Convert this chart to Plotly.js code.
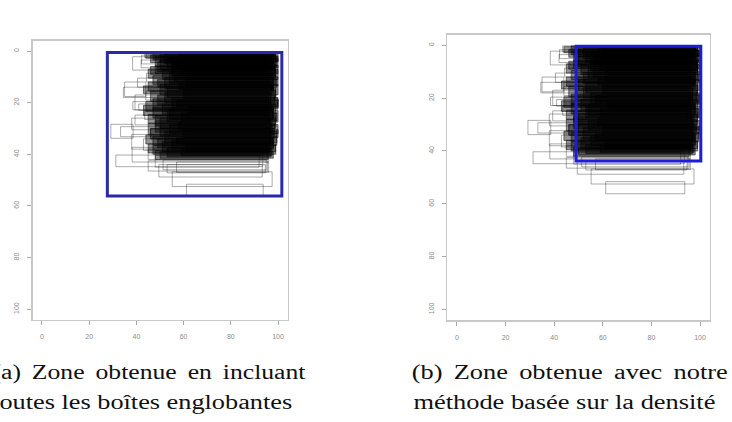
<!DOCTYPE html>
<html>
<head>
<meta charset="utf-8">
<script src="https://cdn.plot.ly/plotly-3.0.1.min.js"></script>
<style>html,body{margin:0;padding:0;background:#fff;}#chart{width:732px;height:422px;}</style>
</head>
<body>
<div id="chart"></div>
<script>
// ---- data: bounding boxes (x0, x1, y0, y1 in image units) ----
// sparse boxes (clearly visible outlines)
const sparseX0 = [42.2,38.4,43.5,35.0,34.5,39.4,41.0,38.0,29.2,33.3,38.0,38.2,31.3,51.3,49.5,55.2,61.2,53.0,45.0,44.3,38.5,39.4,40.5,43.0,42.0,45.0,44.0,43.5,46.0,48.0,57.0];
const sparseX1 = [96,95,98,44.0,97,95,97,96,38.6,95,97,96,93.5,95.0,93.3,97.5,93.7,94.6,95.5,96.5,96,94.5,98,97,99,96,99,97.5,98.5,92.0,96.0];
const sparseY0 = [1.6,2.2,0.2,12.0,14.0,17.0,20.5,26.0,28.4,29.3,32.3,37.3,40.3,42.2,44.0,46.8,51.6,44.0,42.5,8.6,19.6,24.8,10.5,34.0,3.5,38.0,15.5,23.0,30.0,40.5,43.0];
const sparseY1 = [5.0,7.4,2.5,17.6,18.0,22.8,23.0,30.5,33.8,33.2,38.0,43.0,44.8,46.0,48.8,52.5,56.2,47.2,46.5,11.9,22.8,28.6,14.0,38.5,6.5,42.0,19.0,26.5,34.0,45.0,47.0];
// dense boxes (the heavily overlapping core)
const denseX0 = [47,50,52,48,53,49,55,46,51,54,47,52,45,50,53,46,49,55,44,51,47,53,45,50,48,54,46,52,44,49,51,47,53,48,
                 44,46,55,50,48,45,56,49,43,52,47,43,54,48,45,50,47,55,45,50,
                 58,60,57,59,61,58,60,57,62,59,58,60,57,61,59];
const denseX1 = [99,100,98,99.5,100,97,99,98.5,100,96,99,98,97.5,100,99,96,98.5,100,97,99,98,100,96.5,99,97.5,100,98,99.5,97,98,96.5,99,97,95.5,
                 98,99,97,98,100,99,98,99.5,98,97,100,96,98,99,98.5,97,99.5,98,96,98,
                 99,100,98.5,99,100,98,99,100,98,99.5,97,100,98,99,97.5];
const denseY0 = [0.2,0.5,1.0,2.0,3.0,4.2,5.0,6.0,7.2,8.0,9.5,10.2,12.0,13.0,14.2,15.5,17.0,18.0,19.5,20.5,22.0,23.0,24.5,26.0,27.0,28.5,30.0,31.0,32.5,34.0,35.0,36.5,37.5,38.5,
                 0.5,1.5,2.5,3.5,5.5,7.0,9.0,11.0,13.5,16.0,18.5,21.0,22.5,25.0,28.0,29.5,33.0,34.5,36.0,39.0,
                 0.3,2.0,4.5,6.5,10.0,12.5,15.0,19.0,21.5,24.0,27.5,30.5,33.5,36.0,38.0];
const denseY1 = [3.5,4.2,5.0,6.0,6.5,8.0,9.5,9.0,11.0,12.5,13.0,14.5,15.5,17.0,18.0,19.5,21.0,22.0,23.5,24.5,26.0,27.5,28.0,30.0,31.5,32.0,34.0,35.5,36.0,37.5,39.0,40.0,41.0,42.0,
                 2.8,4.5,7.0,7.2,8.8,10.5,12.0,14.0,16.5,20.0,22.5,25.0,26.5,29.0,32.5,33.0,36.5,38.0,39.5,41.5,
                 2.0,4.0,6.8,9.5,13.5,15.0,18.5,21.5,24.0,27.0,30.5,33.5,36.0,39.0,40.5];
// zones: (a) all boxes, (b) density-based
const zoneX0 = [27.7, 49.0];
const zoneX1 = [101.6, 100.3];
const zoneY0 = [0.6, 0.3];
const zoneY1 = [56.2, 43.8];
const tickValues = [0, 20, 40, 60, 80, 100];
const captionLines = ["(a) Zone obtenue en incluant", "toutes les boîtes englobantes",
                      "(b) Zone obtenue avec notre", "méthode basée sur la densité"];

// ---- styling / layout ----
const W = 732, H = 422;
const captionCenterX = [148.5, 142.7, 570, 564];
const captionCenterY = [372, 402, 372, 402];
const captionWidth = [313, 300, 316, 302];
const captionWordSpacing = [3.5, 0, 3.5, 0];

function rects(x0s, x1s, y0s, y1s, xr, yr, style) {
  return x0s.map((v, i) => Object.assign({type: 'rect', xref: xr, yref: yr,
    x0: v, x1: x1s[i], y0: y0s[i], y1: y1s[i]}, style));
}
const sparseStyle = {line: {color: 'rgba(0,0,0,0.33)', width: 1}, fillcolor: 'rgba(0,0,0,0)'};
const denseStyle = {line: {color: 'rgba(0,0,0,0.5)', width: 1}, fillcolor: 'rgba(0,0,0,0.42)'};
const zoneColors = ['#2a2aa6', '#1c1cdc'];

const shapes = [];
[['x', 'y'], ['x2', 'y2']].forEach((ax, k) => {
  shapes.push(...rects(sparseX0, sparseX1, sparseY0, sparseY1, ax[0], ax[1], sparseStyle));
  shapes.push(...rects(denseX0, denseX1, denseY0, denseY1, ax[0], ax[1], denseStyle));
  shapes.push({type: 'rect', xref: ax[0], yref: ax[1], x0: zoneX0[k], x1: zoneX1[k],
    y0: zoneY0[k], y1: zoneY1[k], line: {color: zoneColors[k], width: 3}, fillcolor: 'rgba(0,0,0,0)'});
});

function xAxis(domain, anchor) {
  return {domain: domain, anchor: anchor, range: [-4, 104], tickvals: tickValues,
    ticks: 'outside', ticklen: 4, tickwidth: 1, tickcolor: '#a8a8a8',
    showline: true, mirror: true, linecolor: '#c8c8c8', linewidth: 1.5,
    showgrid: false, zeroline: false, ticklabelstandoff: 6,
    tickfont: {family: 'Liberation Sans, Arial, sans-serif', size: 7, color: '#8a8a8a'}, fixedrange: true};
}
function yAxis(domain, anchor) {
  return {domain: domain, anchor: anchor, range: [104, -4], tickvals: tickValues, tickangle: -90,
    ticks: 'outside', ticklen: 4, tickwidth: 1, tickcolor: '#a8a8a8',
    showline: true, mirror: true, linecolor: '#c8c8c8', linewidth: 1.5,
    showgrid: false, zeroline: false, ticklabelstandoff: 5,
    tickfont: {family: 'Liberation Sans, Arial, sans-serif', size: 7, color: '#8a8a8a'}, fixedrange: true};
}

const annotations = captionLines.map((t, i) => ({
  text: t, xref: 'paper', yref: 'paper', x: captionCenterX[i] / W, y: 1 - captionCenterY[i] / H,
  xanchor: 'center', yanchor: 'middle', showarrow: false,
  font: {family: 'Liberation Serif, Times New Roman, serif', size: 20, color: '#111111'}
}));

const traces = [
  {x: [0], y: [0], xaxis: 'x', yaxis: 'y', mode: 'markers', marker: {opacity: 0}, hoverinfo: 'skip', showlegend: false},
  {x: [0], y: [0], xaxis: 'x2', yaxis: 'y2', mode: 'markers', marker: {opacity: 0}, hoverinfo: 'skip', showlegend: false}
];

const layout = {
  width: W, height: H, margin: {l: 0, r: 0, t: 0, b: 0},
  paper_bgcolor: '#ffffff', plot_bgcolor: '#ffffff', showlegend: false,
  xaxis: xAxis([32.5 / W, 287.5 / W], 'y'),
  yaxis: yAxis([1 - 319.5 / H, 1 - 40.7 / H], 'x'),
  xaxis2: xAxis([447.2 / W, 709.8 / W], 'y2'),
  yaxis2: yAxis([1 - 320 / H, 1 - 34.8 / H], 'x2'),
  shapes: shapes, annotations: annotations
};

Plotly.newPlot('chart', traces, layout, {staticPlot: true, displayModeBar: false}).then(() => {
  captionLines.forEach((t, i) => {
    const el = document.querySelector('.annotation[data-index="' + i + '"] .annotation-text');
    if (!el) return;
    if (captionWordSpacing[i]) el.style.wordSpacing = captionWordSpacing[i] + 'px';
    el.setAttribute('textLength', captionWidth[i]);
    el.setAttribute('lengthAdjust', 'spacingAndGlyphs');
  });
});
</script>
</body>
</html>
